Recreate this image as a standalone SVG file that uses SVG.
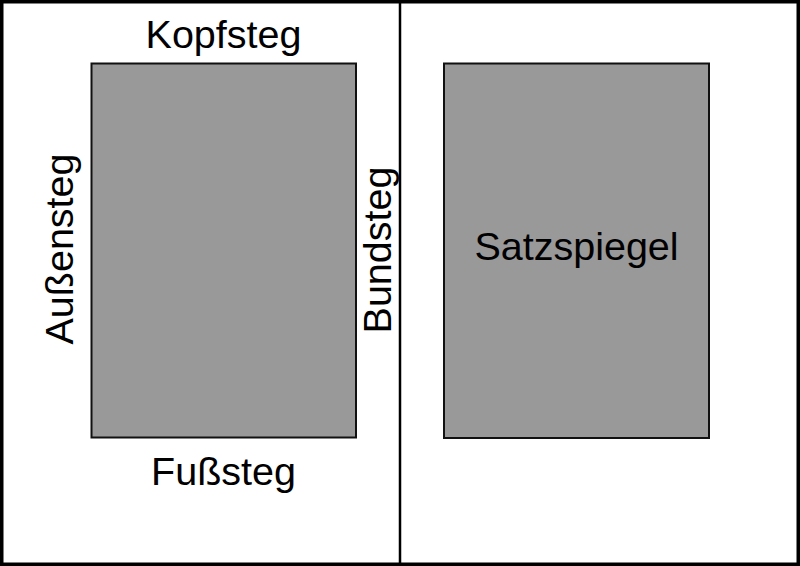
<svg xmlns="http://www.w3.org/2000/svg" width="800" height="566" viewBox="0 0 800 566">
<style>
.page{fill:#ffffff;stroke:#000000;stroke-width:3.5}
.block{fill:#999999;stroke:#111111;stroke-width:2}
.lbl{font-family:"Liberation Sans",Arial,sans-serif;font-size:39.5px;fill:#000000;text-anchor:middle}
</style>
<g id="pages">
<rect class="page" x="1.75" y="1.75" width="796.5" height="562.5"/>
<line x1="400" y1="0" x2="400" y2="566" stroke="#000000" stroke-width="2.5"/>
</g>
<g id="left-block">
<rect class="block" x="91.5" y="63.5" width="264.5" height="374"/>
</g>
<g id="right-block">
<rect class="block" x="444" y="63.5" width="265" height="374.5"/>
<text class="lbl" x="576.5" y="260">Satzspiegel</text>
</g>
<g id="labels">
<text class="lbl" x="223.5" y="48">Kopfsteg</text>
<text class="lbl" x="223.5" y="485">Fußsteg</text>
<text class="lbl" transform="translate(72.5,249) rotate(-90)">Außensteg</text>
<text class="lbl" transform="translate(390.5,250) rotate(-90)">Bundsteg</text>
</g>
</svg>
